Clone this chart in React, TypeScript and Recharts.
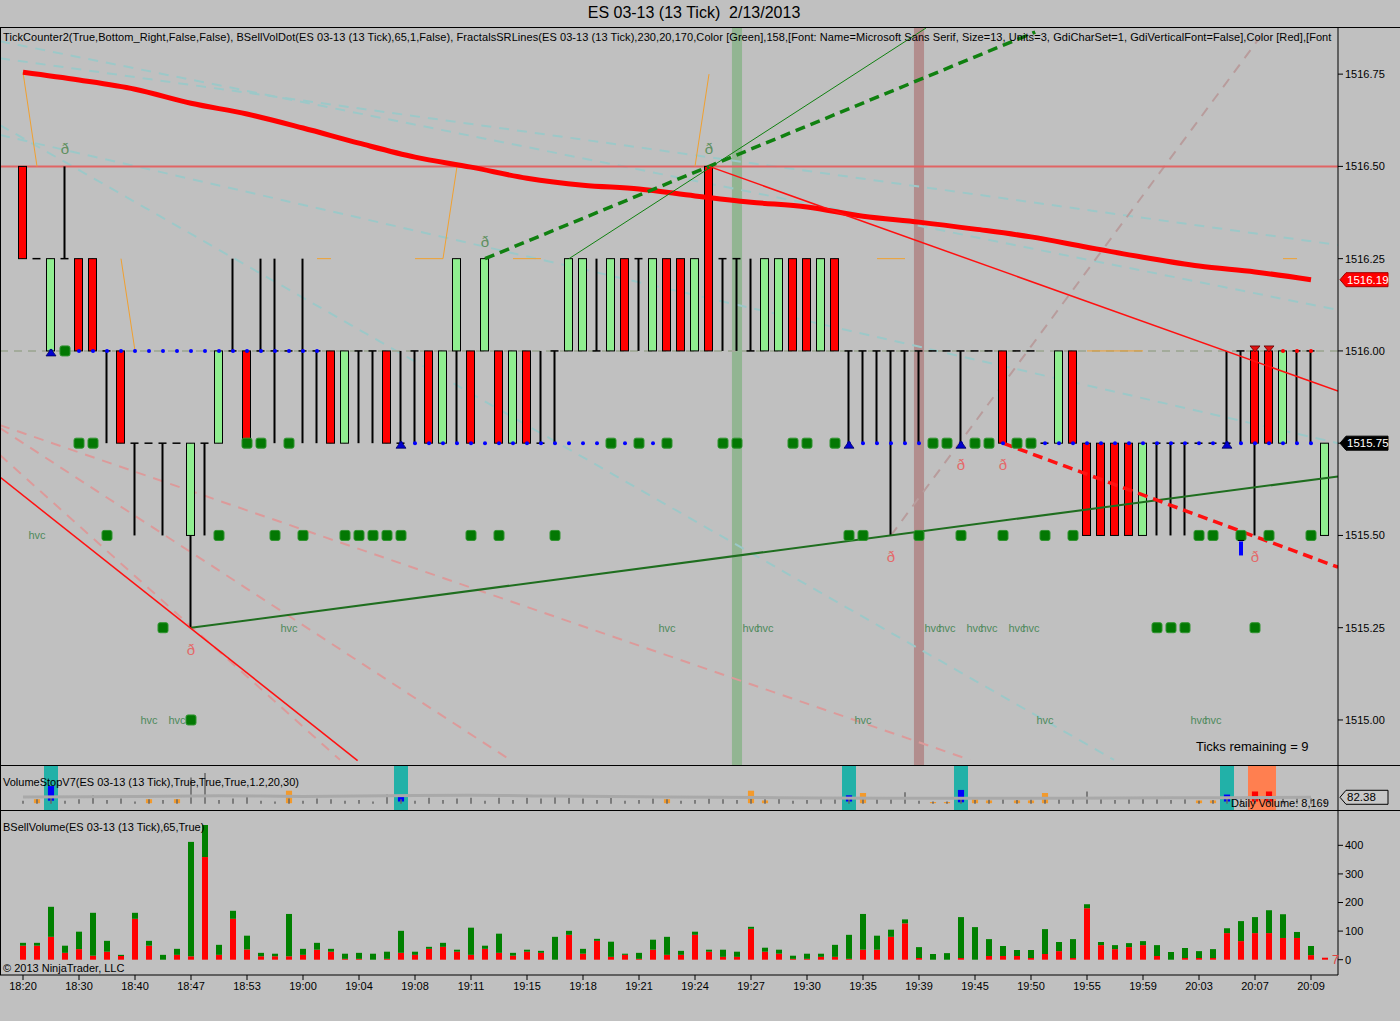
import React from 'react';
import { ComposedChart, XAxis, YAxis, Bar, Line, Scatter, ReferenceLine, ReferenceArea } from 'recharts';

const FONT = '"Liberation Sans", Arial, Helvetica, sans-serif';
const BG = '#c0c0c0';
const W = 1400;

// x is the bar index: bar 0 sits 23px in, bars are 14px apart, the plot ends at the price axis (1338px)
const X_DOMAIN: [number, number] = [-23 / 14, 1315 / 14];
const PRICE_DOMAIN: [number, number] = [1514.878, 1516.875];
const PRICE_TICKS = [1515, 1515.25, 1515.5, 1515.75, 1516, 1516.25, 1516.5, 1516.75];
const VOL_DOMAIN: [number, number] = [-53.5, 520];
const VOL_TICKS = [0, 100, 200, 300, 400];
const VS_DOMAIN: [number, number] = [0, 285];

const timeLabels = [
  '18:20', '18:30', '18:40', '18:47', '18:53', '19:00', '19:04', '19:08', '19:11', '19:15', '19:18', '19:21',
  '19:24', '19:27', '19:30', '19:35', '19:39', '19:45', '19:50', '19:55', '19:59', '20:03', '20:07', '20:09',
];
const timeTickIdx = timeLabels.map((_, k) => k * 4);

// 13 tick bars
const barOpen = [
  1516.5, 1516.25, 1516, 1516.25, 1516.25, 1516.25, 1516, 1516, 1515.75, 1515.75,
  1515.75, 1515.75, 1515.5, 1515.75, 1515.75, 1516, 1516, 1516, 1516, 1516,
  1516, 1516, 1516, 1515.75, 1516, 1516, 1516, 1515.75, 1516, 1516,
  1515.75, 1516, 1516, 1516, 1516, 1515.75, 1516, 1515.75, 1516, 1516,
  1516, 1516, 1516, 1516.25, 1516.25, 1516, 1516.25, 1516.25, 1516, 1516.5,
  1516.25, 1516.25, 1516, 1516, 1516, 1516.25, 1516.25, 1516, 1516.25, 1516,
  1516, 1516, 1516, 1516, 1516, 1516, 1516, 1516, 1516, 1516,
  1516, 1516, 1516, 1515.75, 1515.75, 1516, 1515.75, 1515.75, 1515.75, 1515.75,
  1515.5, 1515.75, 1515.75, 1515.75, 1515.75, 1515.75, 1515.75, 1516, 1516, 1516,
  1515.75, 1516, 1516, 1515.5,
];
const barHigh = [
  1516.5, 1516.25, 1516.25, 1516.5, 1516.25, 1516.25, 1516, 1516, 1515.75, 1515.75,
  1515.75, 1515.75, 1515.75, 1515.75, 1516, 1516.25, 1516, 1516.25, 1516.25, 1516,
  1516.25, 1516, 1516, 1516, 1516, 1516, 1516, 1516, 1516, 1516,
  1516, 1516.25, 1516, 1516.25, 1516, 1516, 1516, 1516, 1516, 1516.25,
  1516.25, 1516.25, 1516.25, 1516.25, 1516.25, 1516.25, 1516.25, 1516.25, 1516.25, 1516.5,
  1516.25, 1516.25, 1516.25, 1516.25, 1516.25, 1516.25, 1516.25, 1516.25, 1516.25, 1516,
  1516, 1516, 1516, 1516, 1516, 1516, 1516, 1516, 1516, 1516,
  1516, 1516, 1516, 1515.75, 1516, 1516, 1515.75, 1515.75, 1515.75, 1515.75,
  1515.75, 1515.75, 1515.75, 1515.75, 1515.75, 1515.75, 1516, 1516, 1516, 1516,
  1516, 1516, 1516, 1515.75,
];
const barLow = [
  1516.25, 1516.25, 1516, 1516.25, 1516, 1516, 1515.75, 1515.75, 1515.5, 1515.75,
  1515.5, 1515.75, 1515.25, 1515.5, 1515.75, 1516, 1515.75, 1516, 1515.75, 1516,
  1515.75, 1515.75, 1515.75, 1515.75, 1515.75, 1515.75, 1515.75, 1515.75, 1515.75, 1515.75,
  1515.75, 1515.75, 1515.75, 1516, 1515.75, 1515.75, 1515.75, 1515.75, 1515.75, 1516,
  1516, 1516, 1516, 1516, 1516, 1516, 1516, 1516, 1516, 1516,
  1516, 1516, 1516, 1516, 1516, 1516, 1516, 1516, 1516, 1515.75,
  1515.75, 1515.75, 1515.5, 1515.75, 1515.75, 1516, 1516, 1515.75, 1516, 1516,
  1515.75, 1516, 1516, 1515.75, 1515.75, 1515.75, 1515.5, 1515.5, 1515.5, 1515.5,
  1515.5, 1515.5, 1515.5, 1515.5, 1515.75, 1515.75, 1515.75, 1515.75, 1515.5, 1515.75,
  1515.75, 1515.75, 1515.75, 1515.5,
];
const barClose = [
  1516.25, 1516.25, 1516.25, 1516.25, 1516, 1516, 1516, 1515.75, 1515.75, 1515.75,
  1515.75, 1515.75, 1515.75, 1515.75, 1516, 1516, 1515.75, 1516, 1516, 1516,
  1516, 1516, 1515.75, 1516, 1516, 1516, 1515.75, 1515.75, 1516, 1515.75,
  1516, 1516.25, 1515.75, 1516.25, 1515.75, 1516, 1515.75, 1515.75, 1516, 1516.25,
  1516.25, 1516, 1516.25, 1516, 1516.25, 1516.25, 1516, 1516, 1516.25, 1516,
  1516.25, 1516.25, 1516, 1516.25, 1516.25, 1516, 1516, 1516.25, 1516, 1516,
  1516, 1516, 1516, 1516, 1516, 1516, 1516, 1516, 1516, 1516,
  1515.75, 1516, 1516, 1515.75, 1516, 1515.75, 1515.5, 1515.5, 1515.5, 1515.5,
  1515.75, 1515.75, 1515.75, 1515.75, 1515.75, 1515.75, 1515.75, 1516, 1515.75, 1515.75,
  1516, 1516, 1516, 1515.75,
];

// BSellVolume: total and sell volume per bar
const volTotal = [
  59, 59, 185, 49, 98, 164, 66, 17, 164, 66,
  17, 38, 412, 471, 52, 171, 84, 24, 21, 160,
  38, 59, 38, 21, 24, 21, 28, 101, 28, 45,
  59, 35, 112, 49, 91, 24, 35, 31, 80, 101,
  38, 73, 63, 21, 24, 70, 80, 31, 98, 35,
  35, 28, 115, 42, 35, 14, 21, 21, 52, 87,
  160, 84, 105, 141, 44, 20, 23, 149, 114, 72,
  48, 34, 34, 107, 62, 72, 194, 62, 51, 58,
  65, 51, 27, 41, 30, 37, 110, 135, 149, 173,
  159, 97, 48, 7,
];
const volSell = [
  49, 49, 80, 24, 37, 14, 28, 13, 143, 49,
  0, 17, 12, 359, 17, 143, 36, 12, 12, 12,
  17, 35, 28, 3, 3, 0, 3, 24, 17, 38,
  45, 28, 17, 38, 24, 14, 28, 24, 0, 87,
  21, 66, 10, 17, 3, 35, 17, 17, 87, 28,
  10, 10, 108, 28, 21, 3, 3, 10, 10, 3,
  35, 35, 80, 127, 6, 0, 0, 6, 0, 13,
  13, 13, 6, 20, 30, 6, 180, 51, 37, 44,
  51, 13, 0, 6, 6, 6, 93, 65, 93, 93,
  76, 76, 16, 7,
];

// moving average, read every fourth bar
const maPoints = [
  { i: 0, v: 1516.755 }, { i: 4, v: 1516.734 }, { i: 8, v: 1516.709 }, { i: 12, v: 1516.671 },
  { i: 16, v: 1516.642 }, { i: 20, v: 1516.604 }, { i: 24, v: 1516.563 }, { i: 28, v: 1516.525 },
  { i: 32, v: 1516.498 }, { i: 36, v: 1516.468 }, { i: 40, v: 1516.449 }, { i: 44, v: 1516.439 },
  { i: 48, v: 1516.42 }, { i: 52, v: 1516.403 }, { i: 56, v: 1516.39 }, { i: 60, v: 1516.365 },
  { i: 64, v: 1516.349 }, { i: 68, v: 1516.33 }, { i: 72, v: 1516.309 }, { i: 76, v: 1516.281 },
  { i: 80, v: 1516.254 }, { i: 84, v: 1516.23 }, { i: 88, v: 1516.214 }, { i: 92, v: 1516.193 },
];

// drawn lines: [bar1, price1, bar2, price2]
const tealLines = [
  [-1.643, 1516.793, 93.93, 1516.287],
  [-1.643, 1516.585, 93.93, 1515.75],
  [-1.643, 1516.839, 93.93, 1516.111],
  [-1.643, 1516.612, 77.93, 1514.892],
];
const pinkLines = [
  [-1.643, 1515.799, 67.64, 1514.892],
  [-1.643, 1515.791, 34.79, 1514.892],
  [-1.643, 1515.718, 22.64, 1514.892],
];
const brownLines = [[62, 1515.5, 88.71, 1516.868]];
const greenDashedLines = [[33, 1516.25, 72.3, 1516.864]];
const greenThinLines = [[39, 1516.25, 64.5, 1516.875]];
const greenSupportLines = [[12, 1515.25, 93.93, 1515.66]];
const redThinLines = [
  [49, 1516.5, 93.93, 1515.891],
  [-1.643, 1515.658, 23.9, 1514.89],
];
const redDashedLines = [[70, 1515.75, 93.93, 1515.414]];
const orangeLines = [
  [0, 1516.755, 1, 1516.5], [7, 1516.25, 8, 1516], [21, 1516.25, 22, 1516.25],
  [28, 1516.25, 30, 1516.25], [30, 1516.25, 31, 1516.5], [35, 1516.25, 37, 1516.25],
  [48, 1516.5, 49, 1516.75], [61, 1516.25, 63, 1516.25], [76, 1516, 80, 1516],
  [90, 1516.25, 91, 1516.25],
];
const resistancePrice = 1516.5;
const pivotPrice = 1516.0;
const greenBandBar = 51;
const brownBandBar = 64;

const volumeDots = [
  { i: 3, p: 1516 },
  ...[4, 5, 16, 17, 19, 42, 44, 46, 50, 51, 55, 56, 58, 65, 66, 68, 69, 71, 72].map((i) => ({ i, p: 1515.75 })),
  ...[6, 14, 18, 20, 23, 24, 25, 26, 27, 32, 34, 38, 59, 60, 64, 67, 70, 73, 75, 84, 85, 87, 89, 92].map((i) => ({ i, p: 1515.5 })),
  ...[10, 81, 82, 83, 88].map((i) => ({ i, p: 1515.25 })),
  { i: 12, p: 1515 },
];
const supportRuns = [
  { from: 2, to: 21, p: 1516 },
  { from: 27, to: 46, p: 1515.75 },
  { from: 59, to: 92, p: 1515.75 },
];
const resistanceRuns = [{ from: 88, to: 92, p: 1516 }];
const blueTriangles = [
  { i: 2, p: 1516 }, { i: 27, p: 1515.75 }, { i: 59, p: 1515.75 }, { i: 67, p: 1515.75 }, { i: 86, p: 1515.75 },
];
const redTriangles = [{ i: 88, p: 1516 }, { i: 89, p: 1516 }];
const blueArrows = [{ i: 87, p: 1515.5 }];
const fractalHighs = [{ i: 3, p: 1516.5 }, { i: 33, p: 1516.25 }, { i: 49, p: 1516.5 }];
const fractalLows = [
  { i: 12, p: 1515.25 }, { i: 62, p: 1515.5 }, { i: 67, p: 1515.75 }, { i: 70, p: 1515.75 }, { i: 88, p: 1515.5 },
];
const hvcLabels = [
  { i: 1, p: 1515.5 },
  ...[19, 46, 52, 53, 65, 66, 68, 69, 71, 72].map((i) => ({ i, p: 1515.25 })),
  ...[9, 11, 60, 73, 84, 85].map((i) => ({ i, p: 1515 })),
];

// VolumeStopV7 panel
const vsTick = [
  20, 30, 45, 20, 30, 55, 25, 35, 15, 30,
  25, 30, 170, 200, 25, 35, 55, 20, 15, 35,
  20, 35, 30, 20, 25, 15, 60, 30, 20, 40,
  25, 35, 40, 20, 40, 25, 40, 35, 45, 40,
  35, 25, 40, 20, 25, 35, 30, 20, 25, 35,
  30, 25, 35, 30, 40, 20, 25, 45, 30, 35,
  40, 30, 35, 75, 20, 15, 15, 40, 25, 30,
  35, 25, 30, 40, 35, 30, 80, 35, 25, 30,
  35, 30, 25, 30, 20, 25, 35, 40, 45, 45,
  50, 40, 35, 20,
];
const VS_BASE = 40;
const vsLine = [
  { i: 0, v: 84 }, { i: 8, v: 88 }, { i: 14, v: 92 }, { i: 20, v: 88 }, { i: 26, v: 92 }, { i: 32, v: 96 },
  { i: 38, v: 90 }, { i: 46, v: 85 }, { i: 54, v: 80 }, { i: 62, v: 76 }, { i: 70, v: 76 }, { i: 78, v: 78 },
  { i: 86, v: 80 }, { i: 92, v: 82.38 },
];
const vsSignalBars = [2, 27, 59, 67, 86];
const vsAlertBars = [88, 89];
const vsOrange = [
  { i: 1, lo: 44, hi: 70 }, { i: 9, lo: 44, hi: 70 }, { i: 11, lo: 44, hi: 70 }, { i: 19, lo: 44, hi: 125 },
  { i: 46, lo: 44, hi: 70 }, { i: 52, lo: 44, hi: 125 }, { i: 53, lo: 44, hi: 62 }, { i: 60, lo: 44, hi: 110 },
  { i: 65, lo: 44, hi: 52 }, { i: 66, lo: 44, hi: 52 }, { i: 68, lo: 44, hi: 70 }, { i: 69, lo: 44, hi: 62 },
  { i: 71, lo: 44, hi: 62 }, { i: 72, lo: 44, hi: 62 }, { i: 73, lo: 44, hi: 110 }, { i: 84, lo: 44, hi: 62 },
  { i: 85, lo: 44, hi: 62 },
];
const vsBlue = [
  { i: 2, lo: 60, hi: 155 }, { i: 27, lo: 55, hi: 95 }, { i: 59, lo: 55, hi: 95 }, { i: 67, lo: 50, hi: 130 },
  { i: 86, lo: 55, hi: 100 },
];
const vsRed = [{ i: 88, lo: 55, hi: 120 }, { i: 89, lo: 55, hi: 120 }];
const vsLast = 82.38;

const bars = barOpen.map((o, i) => ({ i, o, h: barHigh[i], l: barLow[i], c: barClose[i] }));
const volRows = volTotal.map((t, i) => ({ i, sell: volSell[i], buy: t - volSell[i] }));
const vsRows = vsTick.map((h, i) => ({ i, tick: [VS_BASE, VS_BASE + h] }));
const lastClose = barClose[barClose.length - 1];
const lastMa = maPoints[maPoints.length - 1].v;
const runDots = (runs: { from: number; to: number; p: number }[]) =>
  runs.flatMap((r) => Array.from({ length: r.to - r.from + 1 }, (_, k) => ({ i: r.from + k, p: r.p })));

const CandleShape = (props: any) => {
  const { x, y, width, height, payload } = props;
  if (!payload || x == null || y == null) return null;
  const { o, h, l, c } = payload;
  const cx = x + width / 2;
  const k = h > l ? height / (h - l) : 0;
  const yO = y + (h - o) * k;
  const yC = y + (h - c) * k;
  if (o === c) {
    return (
      <g>
        {h > l && <line x1={cx} y1={y} x2={cx} y2={y + height} stroke="#000" strokeWidth={2} />}
        <line x1={cx - 4} y1={yO} x2={cx + 4} y2={yO} stroke="#000" strokeWidth={1.5} />
      </g>
    );
  }
  return (
    <g>
      <line x1={cx} y1={y} x2={cx} y2={y + height} stroke="#000" strokeWidth={2} />
      <rect x={cx - 4} y={Math.min(yO, yC)} width={8} height={Math.abs(yO - yC)}
        fill={c > o ? '#90ee90' : '#ff0000'} stroke="#000" strokeWidth={1} />
    </g>
  );
};

const TickShape = (props: any) => {
  const { x, y, width, height } = props;
  if (x == null || y == null) return null;
  const cx = x + width / 2;
  return <line x1={cx} y1={y} x2={cx} y2={y + height} stroke="#666" strokeWidth={1.5} />;
};

const PriceTag = ({ viewBox, txt, bg, fg, border }: any) => {
  if (!viewBox) return null;
  const x = viewBox.x + viewBox.width;
  const y = viewBox.y;
  return (
    <g>
      <path d={`M${x + 2},${y} L${x + 8},${y - 7} L${x + 50},${y - 7} L${x + 50},${y + 7} L${x + 8},${y + 7} Z`}
        fill={bg} stroke={border || bg} strokeWidth={1} />
      <text x={x + 9} y={y + 4} fill={fg} fontSize={11.5} fontFamily={FONT}>{txt}</text>
    </g>
  );
};

const seg = (s: number[]) => [{ x: s[0], y: s[1] }, { x: s[2], y: s[3] }];

const drawLines = (list: number[][], key: string, stroke: string, width: number, dash?: string) =>
  list.map((s, k) => (
    <ReferenceLine key={`${key}-${k}`} segment={seg(s) as any} stroke={stroke} strokeWidth={width}
      strokeDasharray={dash} ifOverflow="hidden" />
  ));

const axisTick = { fill: '#000', fontSize: 11, fontFamily: FONT };
const noMargin = { top: 0, right: 0, bottom: 0, left: 0 };

// drawn behind the bars: highlight bands, faint fractal lines, level lines
function PriceBackdrop() {
  return (
    <ComposedChart width={W} height={737} data={bars} margin={noMargin}>
      <XAxis type="number" dataKey="i" domain={X_DOMAIN} allowDataOverflow hide />
      <YAxis orientation="right" width={62} domain={PRICE_DOMAIN} allowDataOverflow tick={false} tickLine={false}
        axisLine={false} />
      <ReferenceArea x1={greenBandBar - 0.36} x2={greenBandBar + 0.36} fill="#92b592" fillOpacity={1} stroke="none" />
      <ReferenceArea x1={brownBandBar - 0.36} x2={brownBandBar + 0.36} fill="#b28d8d" fillOpacity={1} stroke="none" />
      {drawLines(tealLines, 'teal', '#9cc8c8', 2, '10 8')}
      {drawLines(pinkLines, 'pink', '#dc9a9a', 2, '10 8')}
      {drawLines(brownLines, 'brown', '#b89c9c', 2, '10 8')}
      <ReferenceLine y={pivotPrice} stroke="#a3ab9b" strokeWidth={2} strokeDasharray="8 6" />
      <ReferenceLine y={resistancePrice} stroke="#e06464" strokeWidth={2} />
    </ComposedChart>
  );
}

function PriceChart() {
  return (
    <ComposedChart width={W} height={737} data={bars} margin={noMargin}>
      <XAxis type="number" dataKey="i" domain={X_DOMAIN} allowDataOverflow hide />
      <YAxis orientation="right" width={62} domain={PRICE_DOMAIN} allowDataOverflow ticks={PRICE_TICKS} interval={0}
        tickFormatter={(v: number) => (v === lastClose ? '' : v.toFixed(2))} tickSize={5} axisLine={{ stroke: '#000' }}
        tickLine={{ stroke: '#000' }} tick={axisTick} />
      {drawLines(orangeLines, 'orange', '#f0a030', 1)}
      <Bar dataKey={(d: any) => [d.l, d.h]} barSize={9} shape={(p: any) => <CandleShape {...p} />}
        isAnimationActive={false} />
      <Line data={maPoints} dataKey="v" type="monotone" stroke="#ff0000" strokeWidth={5} dot={false}
        isAnimationActive={false} />
      {drawLines(greenThinLines, 'gthin', '#108010', 1)}
      {drawLines(greenDashedLines, 'gdash', '#108010', 3.5, '10 6')}
      {drawLines(greenSupportLines, 'gsup', '#1f6e1f', 2)}
      {drawLines(redThinLines, 'rthin', '#ff1010', 1.5)}
      {drawLines(redDashedLines, 'rdash', '#ff1010', 3.5, '10 6')}
      <Scatter data={runDots(supportRuns)} dataKey="p" isAnimationActive={false}
        shape={(p: any) => <circle cx={p.cx} cy={p.cy} r={2} fill="#0000ff" />} />
      <Scatter data={runDots(resistanceRuns)} dataKey="p" isAnimationActive={false}
        shape={(p: any) => <circle cx={p.cx} cy={p.cy} r={2} fill="#ff0000" />} />
      <Scatter data={volumeDots} dataKey="p" isAnimationActive={false}
        shape={(p: any) => (
          <rect x={p.cx - 5} y={p.cy - 5} width={10} height={10} rx={2} fill="#037803" stroke="#2f932f" strokeWidth={1} />
        )} />
      <Scatter data={blueTriangles} dataKey="p" isAnimationActive={false}
        shape={(p: any) => (
          <path d={`M${p.cx},${p.cy - 2} L${p.cx + 5},${p.cy + 5} L${p.cx - 5},${p.cy + 5} Z`} fill="#0000d0" stroke="#000060" strokeWidth={0.8} />
        )} />
      <Scatter data={redTriangles} dataKey="p" isAnimationActive={false}
        shape={(p: any) => (
          <path d={`M${p.cx - 5},${p.cy - 5} L${p.cx + 5},${p.cy - 5} L${p.cx},${p.cy + 1} Z`} fill="#e01010" stroke="#600000" strokeWidth={0.8} />
        )} />
      <Scatter data={blueArrows} dataKey="p" isAnimationActive={false}
        shape={(p: any) => (
          <g>
            <line x1={p.cx - 3} y1={p.cy + 5} x2={p.cx + 3} y2={p.cy + 5} stroke="#000" strokeWidth={1} />
            <rect x={p.cx - 2} y={p.cy + 6} width={4} height={14} fill="#0000ff" />
          </g>
        )} />
      <Scatter data={fractalHighs} dataKey="p" isAnimationActive={false}
        shape={(p: any) => (
          <text x={p.cx} y={p.cy - 12} textAnchor="middle" fontSize={15} fontFamily={FONT} fill="#5e8f5e">ð</text>
        )} />
      <Scatter data={fractalLows} dataKey="p" isAnimationActive={false}
        shape={(p: any) => (
          <text x={p.cx} y={p.cy + 27} textAnchor="middle" fontSize={15} fontFamily={FONT} fill="#e46a6a">ð</text>
        )} />
      <Scatter data={hvcLabels} dataKey="p" isAnimationActive={false}
        shape={(p: any) => (
          <text x={p.cx} y={p.cy + 4} textAnchor="middle" fontSize={11} fontFamily={FONT} fill="#4f8a5c">hvc</text>
        )} />
      <ReferenceLine y={lastMa} stroke="none" ifOverflow="visible"
        label={<PriceTag txt={lastMa.toFixed(2)} bg="#ff0000" fg="#fff" border="#a00000" />} />
      <ReferenceLine y={lastClose} stroke="none" ifOverflow="visible"
        label={<PriceTag txt={lastClose.toFixed(2)} bg="#000" fg="#fff" />} />
    </ComposedChart>
  );
}

function VolumeStopChart() {
  const marks = [
    ...vsOrange.map((m) => ({ ...m, fill: '#f39a2c' })),
    ...vsBlue.map((m) => ({ ...m, fill: '#0000ff' })),
    ...vsRed.map((m) => ({ ...m, fill: '#ff0000' })),
  ];
  return (
    <ComposedChart width={W} height={44} data={vsRows} margin={noMargin}>
      <XAxis type="number" dataKey="i" domain={X_DOMAIN} allowDataOverflow hide />
      <YAxis orientation="right" width={62} domain={VS_DOMAIN} allowDataOverflow tick={false} tickLine={false}
        axisLine={{ stroke: '#000' }} />
      {vsSignalBars.map((i) => (
        <ReferenceArea key={`sig-${i}`} x1={i - 0.5} x2={i + 0.5} fill="#22b1a8" fillOpacity={1} stroke="none" />
      ))}
      <ReferenceArea x1={vsAlertBars[0] - 0.5} x2={vsAlertBars[vsAlertBars.length - 1] + 0.5} fill="#ff7f50"
        fillOpacity={1} stroke="none" />
      <Line data={vsLine} dataKey="v" type="monotone" stroke="#a9a9a9" strokeWidth={3} dot={false}
        isAnimationActive={false} />
      <Bar dataKey="tick" barSize={2} shape={(p: any) => <TickShape {...p} />} isAnimationActive={false} />
      {marks.map((m, k) => (
        <ReferenceArea key={`mk-${k}`} x1={m.i - 0.22} x2={m.i + 0.22} y1={m.lo} y2={m.hi} fill={m.fill}
          fillOpacity={1} stroke="none" />
      ))}
      <ReferenceLine y={vsLast} stroke="none" ifOverflow="visible"
        label={<PriceTag txt={vsLast.toFixed(2)} bg="#c8c8c8" fg="#000" border="#000" />} />
    </ComposedChart>
  );
}

function VolumeChart() {
  return (
    <ComposedChart width={W} height={189} data={volRows} margin={noMargin}>
      <XAxis type="number" dataKey="i" domain={X_DOMAIN} allowDataOverflow ticks={timeTickIdx} interval={0}
        tickFormatter={(v: number) => timeLabels[Math.round(v / 4)]} height={25} tickSize={5}
        axisLine={{ stroke: '#000' }} tickLine={{ stroke: '#000' }} tick={axisTick} />
      <YAxis orientation="right" width={62} domain={VOL_DOMAIN} allowDataOverflow ticks={VOL_TICKS} interval={0}
        tickSize={5} axisLine={{ stroke: '#000' }} tickLine={{ stroke: '#000' }} tick={axisTick} />
      <Bar dataKey="sell" stackId="v" fill="#ff0000" barSize={6} isAnimationActive={false} />
      <Bar dataKey="buy" stackId="v" fill="#008000" barSize={6} isAnimationActive={false} />
    </ComposedChart>
  );
}

const txt = (left: number, top: number, size: number, content: string, extra: any = {}) => (
  <div style={{ position: 'absolute', left, top, fontSize: size, lineHeight: `${size + 2}px`, whiteSpace: 'pre', color: '#000', ...extra }}>
    {content}
  </div>
);

const hLine = (top: number, left: number, width: number) => (
  <div style={{ position: 'absolute', top, left, width, height: 1, background: '#000' }} />
);

export default function App() {
  return (
    <div style={{ position: 'absolute', left: 0, top: 0, width: W, height: 1021, background: BG, fontFamily: FONT, overflow: 'hidden' }}>
      <div style={{ position: 'absolute', left: 0, top: 28 }}><PriceBackdrop /></div>
      <div style={{ position: 'absolute', left: 0, top: 28 }}><PriceChart /></div>
      <div style={{ position: 'absolute', left: 0, top: 766 }}><VolumeStopChart /></div>
      <div style={{ position: 'absolute', left: 0, top: 811 }}><VolumeChart /></div>

      {hLine(27, 0, W)}
      {hLine(765, 0, W)}
      {hLine(810, 0, W)}
      <div style={{ position: 'absolute', left: 0, top: 27, width: 1, height: 948, background: '#000' }} />

      <div style={{ position: 'absolute', left: 0, top: 3, width: 1388, textAlign: 'center', fontSize: 16, lineHeight: '20px', whiteSpace: 'pre' }}>
        {'ES 03-13 (13 Tick)  2/13/2013'}
      </div>
      <div style={{ position: 'absolute', left: 3, top: 31, width: 1334, overflow: 'hidden', fontSize: 11, lineHeight: '13px', whiteSpace: 'pre', letterSpacing: 0.07 }}>
        {'TickCounter2(True,Bottom_Right,False,False), BSellVolDot(ES 03-13 (13 Tick),65,1,False), FractalsSRLines(ES 03-13 (13 Tick),230,20,170,Color [Green],158,[Font: Name=Microsoft Sans Serif, Size=13, Units=3, GdiCharSet=1, GdiVerticalFont=False],Color [Red],[Font'}
      </div>
      {txt(1196, 739, 13, 'Ticks remaining = 9')}
      {txt(3, 776, 11, 'VolumeStopV7(ES 03-13 (13 Tick),True,True,True,1.2,20,30)')}
      {txt(1231, 797, 11, 'Daily Volume: 8,169')}
      {txt(3, 821, 11, 'BSellVolume(ES 03-13 (13 Tick),65,True)')}
      {txt(3, 962, 11, '© 2013 NinjaTrader, LLC')}
      {txt(1332, 953, 12, '7', { color: '#e04040' })}
    </div>
  );
}
